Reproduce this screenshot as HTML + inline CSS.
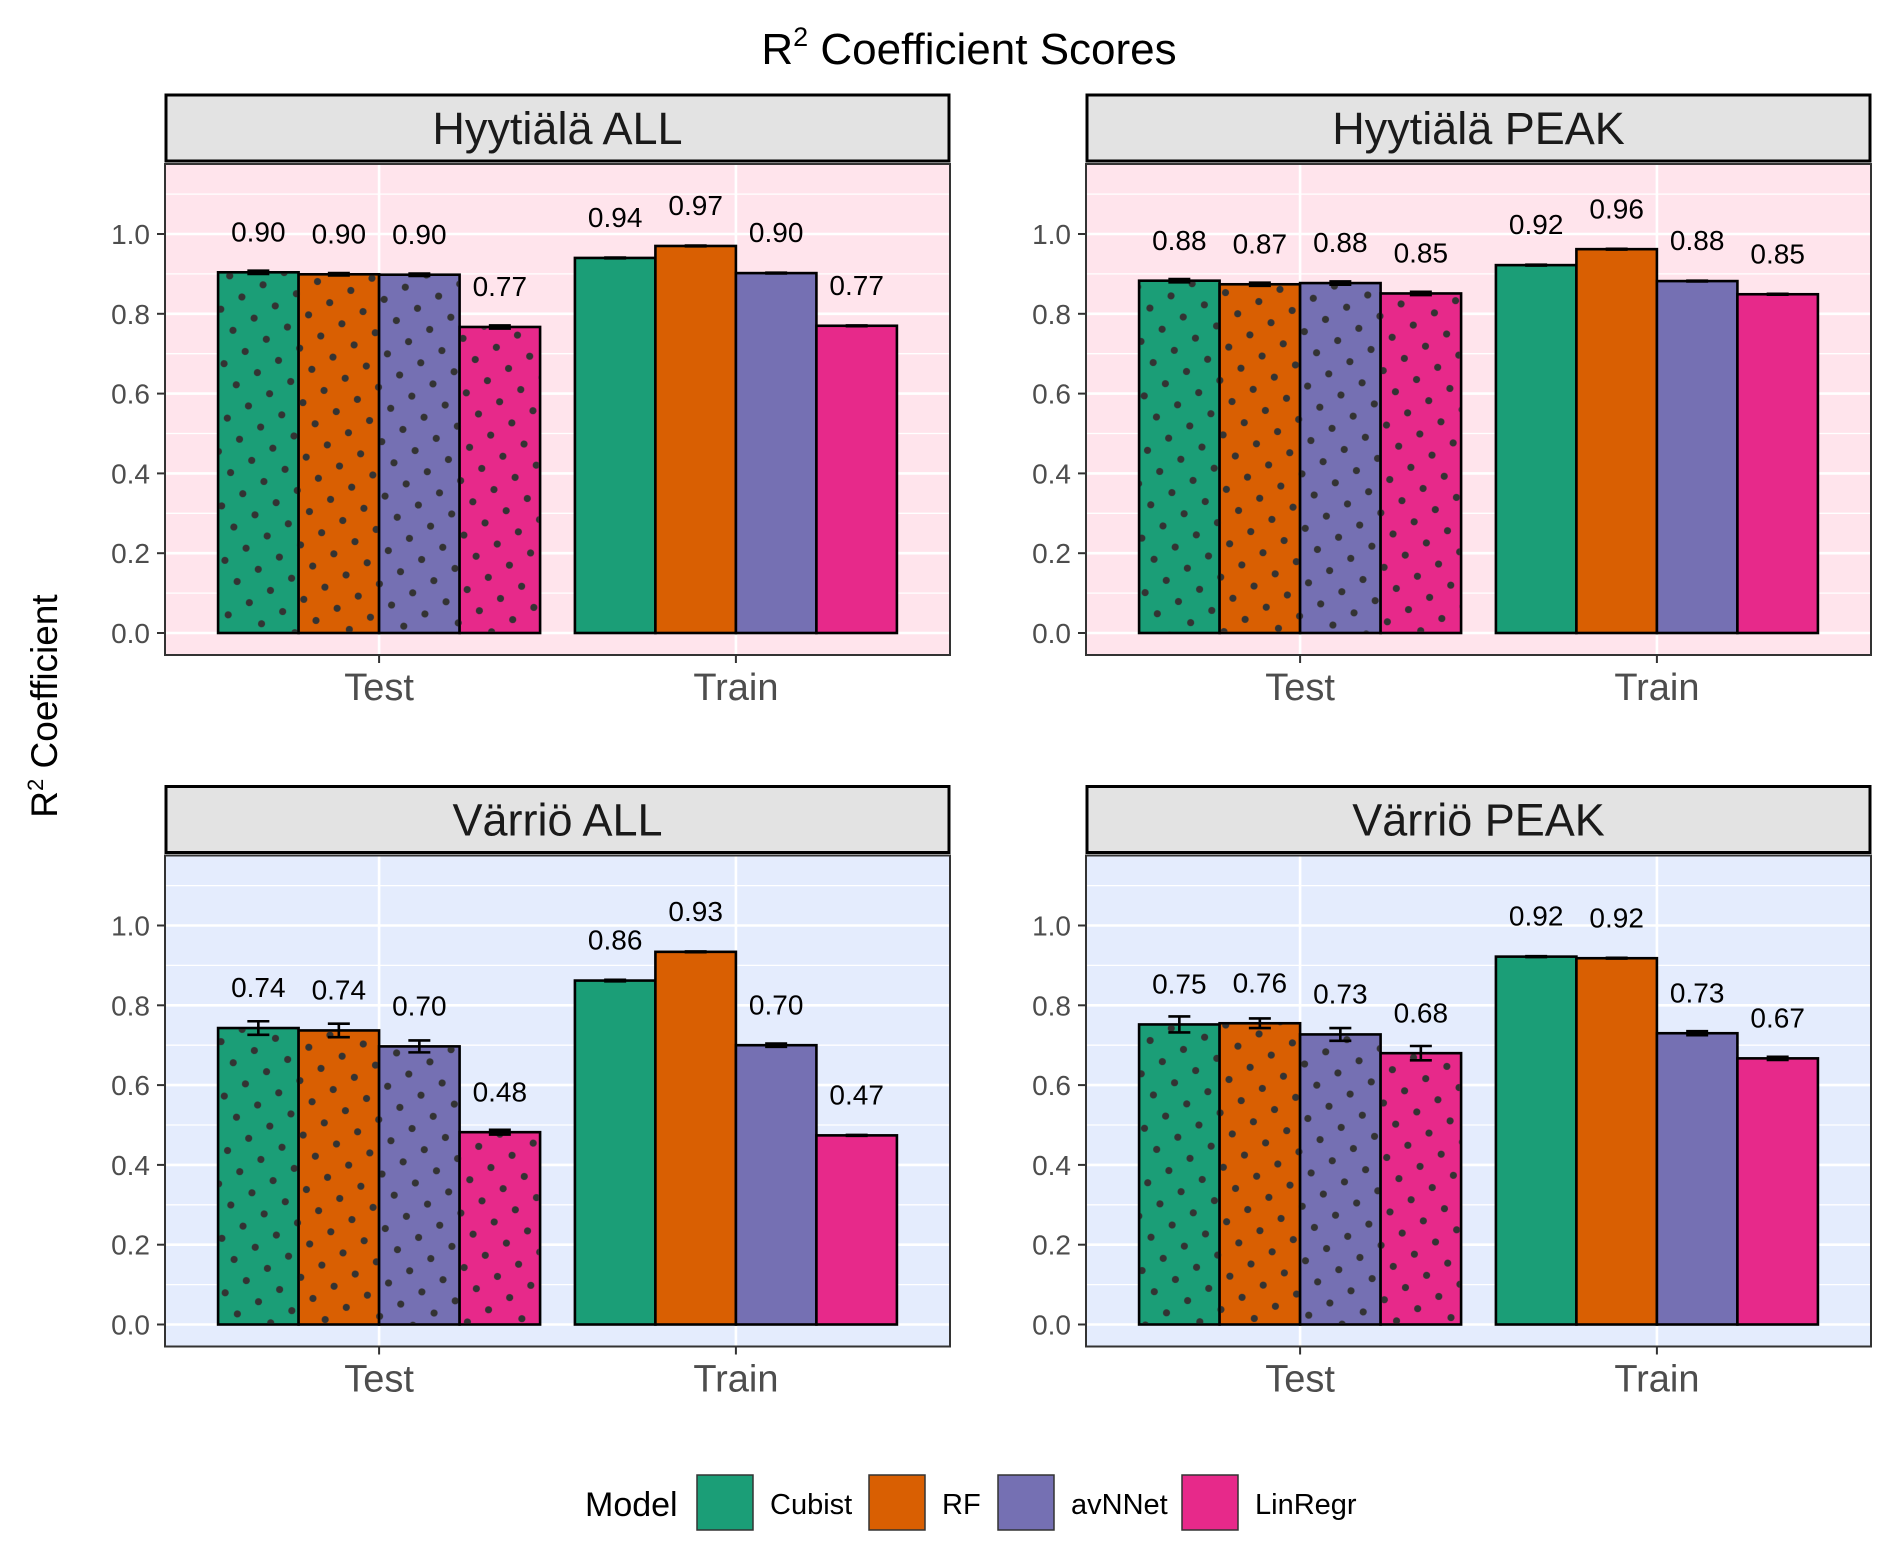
<!DOCTYPE html>
<html><head><meta charset="utf-8"><style>
html,body{margin:0;padding:0;background:#fff;}
svg{display:block;font-family:"Liberation Sans",sans-serif;}
</style></head><body>
<svg id="chart" width="1892" height="1550" viewBox="0 0 1892 1550" xmlns="http://www.w3.org/2000/svg">
<defs>
<pattern id="dots" patternUnits="userSpaceOnUse" width="24.4" height="24.4" patternTransform="rotate(-30)">
<circle cx="12.2" cy="12.2" r="3.6" fill="#333"/>
</pattern>
</defs>
<text x="969" y="64" text-anchor="middle" font-size="44" fill="#000">R<tspan font-size="27" dy="-18">2</tspan><tspan dy="18"> Coefficient Scores</tspan></text>
<text transform="translate(57,706) rotate(-90)" text-anchor="middle" font-size="37" fill="#000">R<tspan font-size="22" dy="-14">2</tspan><tspan dy="14"> Coefficient</tspan></text>
<g id="panels"></g>
<g id="legend"></g>
</svg>
<script>
const panelTitles = ["Hyytiälä ALL","Hyytiälä PEAK","Värriö ALL","Värriö PEAK"];
const categories = ["Test","Train"];
const models = ["Cubist","RF","avNNet","LinRegr"];
const colors = ["#1b9e77","#d95f02","#7570b3","#e7298a"];
const yTicks = [0,0.2,0.4,0.6,0.8,1.0];
const hyyAllVals = [[0.904,0.899,0.898,0.767],[0.940,0.970,0.902,0.770]];
const hyyAllErr  = [[0.004,0.003,0.003,0.004],[0.001,0.001,0.001,0.001]];
const hyyPeakVals = [[0.883,0.874,0.877,0.851],[0.922,0.962,0.882,0.849]];
const hyyPeakErr  = [[0.004,0.004,0.004,0.004],[0.001,0.001,0.001,0.001]];
const varAllVals = [[0.743,0.737,0.697,0.482],[0.862,0.934,0.700,0.474]];
const varAllErr  = [[0.017,0.017,0.015,0.006],[0.002,0.001,0.004,0.001]];
const varPeakVals = [[0.752,0.755,0.727,0.680],[0.922,0.918,0.730,0.667]];
const varPeakErr  = [[0.020,0.012,0.016,0.018],[0.001,0.001,0.005,0.004]];
const valueLabels = [
 [["0.90","0.90","0.90","0.77"],["0.94","0.97","0.90","0.77"]],
 [["0.88","0.87","0.88","0.85"],["0.92","0.96","0.88","0.85"]],
 [["0.74","0.74","0.70","0.48"],["0.86","0.93","0.70","0.47"]],
 [["0.75","0.76","0.73","0.68"],["0.92","0.92","0.73","0.67"]]
];
const allVals = [hyyAllVals,hyyPeakVals,varAllVals,varPeakVals];
const allErr = [hyyAllErr,hyyPeakErr,varAllErr,varPeakErr];

const NS="http://www.w3.org/2000/svg";
function mk(tag,attrs,parent){const e=document.createElementNS(NS,tag);for(const k in attrs)e.setAttribute(k,attrs[k]);parent.appendChild(e);return e;}
const root=document.getElementById('panels');
const panelLeft=[165,1086], panelW=785;
const rowTop=[0,691.5];
for(let p=0;p<4;p++){
  const L=panelLeft[p%2], R=L+panelW, off=rowTop[Math.floor(p/2)];
  const bg = p<2 ? "#ffe4ec" : "#e4ecfd";
  const g=mk('g',{},root);
  
  
  const top=164+off, bot=655+off;
  const y=v=>633+off-v*399;
  const x=c=>L+(c+0.6)*(panelW/2.2);
  mk('rect',{x:L,y:top,width:panelW,height:bot-top,fill:bg},g);
  for(let v=-0.0;v<=1.15;v+=0.1){mk('line',{x1:L,x2:R,y1:y(v),y2:y(v),stroke:'#fff','stroke-width':(Math.round(v*10)%2===0)?2.6:1.3},g);}
  categories.forEach((c,ci)=>mk('line',{x1:x(ci),x2:x(ci),y1:top,y2:bot,stroke:'#fff','stroke-width':2.6},g));
  const bw=80.5;
  categories.forEach((c,ci)=>{
    models.forEach((m,mi)=>{
      const v=allVals[p][ci][mi], e=allErr[p][ci][mi];
      const bx=x(ci)-2*bw+mi*bw;
      const r=mk('rect',{x:bx,y:y(v),width:bw,height:y(0)-y(v),fill:colors[mi],stroke:'#000','stroke-width':2.6},g);
      
      
      if(ci===0) mk('rect',{x:bx+1.3,y:y(v)+1.3,width:bw-2.6,height:y(0)-y(v)-2.6,fill:'url(#dots)'},g);
      const cx=bx+bw/2;
      const eb=mk('path',{d:`M${cx-11},${y(v+e)}H${cx+11}M${cx},${y(v+e)}V${y(v-e)}M${cx-11},${y(v-e)}H${cx+11}`,stroke:'#000','stroke-width':2.6,fill:'none'},g);
      
      
      const t=mk('text',{x:cx,y:y(v+0.1)+9,'text-anchor':'middle','font-size':28,fill:'#000'},g);
      t.textContent=valueLabels[p][ci][mi];
      
      
    });
  });
  mk('rect',{x:L,y:top,width:panelW,height:bot-top,fill:'none',stroke:'#333','stroke-width':2},g);
  const s=mk('rect',{x:L+1,y:95+off,width:panelW-2,height:66,fill:'#e3e3e3',stroke:'#000','stroke-width':3},g);
  
  
  const st=mk('text',{x:L+panelW/2,y:144+off,'text-anchor':'middle','font-size':45,fill:'#1a1a1a'},g);
  st.textContent=panelTitles[p];
  
  
  yTicks.forEach(v=>{
    mk('line',{x1:L-8,x2:L,y1:y(v),y2:y(v),stroke:'#333','stroke-width':2},g);
    const t=mk('text',{x:L-15,y:y(v)+10,'text-anchor':'end','font-size':28,fill:'#4d4d4d'},g);
    t.textContent=v.toFixed(1);
    
    
  });
  categories.forEach((c,ci)=>{
    mk('line',{x1:x(ci),x2:x(ci),y1:bot,y2:bot+8,stroke:'#333','stroke-width':2},g);
    const t=mk('text',{x:x(ci),y:bot+45,'text-anchor':'middle','font-size':38,fill:'#4d4d4d'},g);
    t.textContent=c;
    
    
  });
}
const lg=document.getElementById('legend');
const lt=mk('text',{x:585,y:1516,'font-size':34,fill:'#000'},lg);
lt.textContent='Model';


const keyX=[697,869,998,1182];
models.forEach((m,i)=>{
  const k=mk('rect',{x:keyX[i],y:1475,width:56,height:55,fill:colors[i],stroke:'#333','stroke-width':1.5},lg);
  
  
  const t=mk('text',{x:keyX[i]+73,y:1514,'font-size':29,fill:'#000'},lg);
  t.textContent=m;
  
  
});
</script>
</body></html>
